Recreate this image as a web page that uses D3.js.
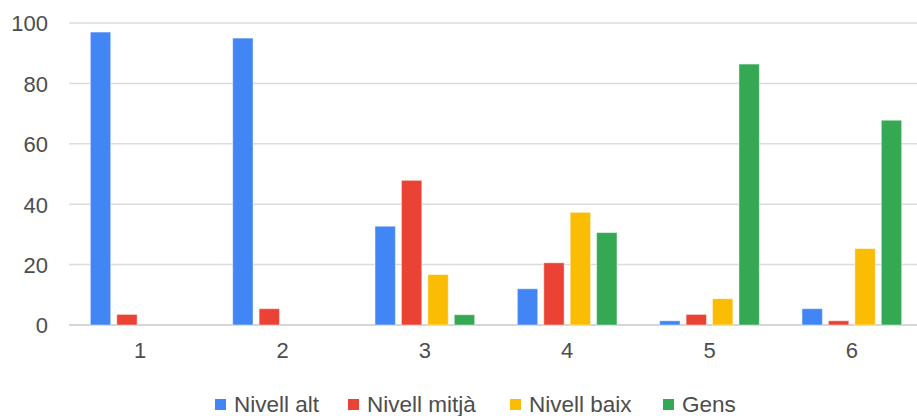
<!DOCTYPE html>
<html>
<head>
<meta charset="utf-8">
<script src="https://cdn.jsdelivr.net/npm/d3@7/dist/d3.min.js"></script>
<style>
  html, body { margin: 0; padding: 0; background: #fff; }
  svg { display: block; }
  text { font-family: "Liberation Sans", Arial, sans-serif; fill: #4d4d4d; }
</style>
</head>
<body>
<svg id="chart" width="917" height="416"></svg>
<script>
const categories = ["1", "2", "3", "4", "5", "6"];
const seriesNames = ["Nivell alt", "Nivell mitjà", "Nivell baix", "Gens"];
const seriesColors = ["#4285f4", "#ea4335", "#fbbc04", "#34a853"];
const nivellAlt   = [97, 95, 32.7, 12.0, 1.4, 5.4];
const nivellMitja = [3.5, 5.4, 47.9, 20.6, 3.5, 1.4];
const nivellBaix  = [0, 0, 16.7, 37.3, 8.7, 25.3];
const gens        = [0, 0, 3.4, 30.6, 86.4, 67.8];
const yTicks = [0, 20, 40, 60, 80, 100];

const seriesValues = [nivellAlt, nivellMitja, nivellBaix, gens];

const svg = d3.select("#chart");
const W = 917;

const x0 = d3.scaleBand().domain(categories).range([69, 923]).paddingInner(0.3).paddingOuter(0.15);
const x1 = d3.scaleBand().domain(seriesNames).range([0, x0.bandwidth()]).paddingInner(0.23);
const y = d3.scaleLinear().domain([0, 100]).range([325, 23]);

// gridlines
const grid = svg.append("g");
grid.selectAll("line").data(yTicks).join("line")
  .attr("x1", 69).attr("x2", W)
  .attr("y1", d => y(d)).attr("y2", d => y(d))
  .attr("stroke", d => d === 0 ? "#c8c8c8" : "#dcdcdc")
  .attr("stroke-width", 1.5);

// y axis labels
const yAxis = d3.axisLeft(y).tickValues(yTicks).tickSize(0).tickPadding(0);
const gy = svg.append("g").attr("transform", "translate(48,0)").call(yAxis);
gy.select(".domain").remove();
gy.selectAll("text").style("font-size", "22px").attr("fill", "#4d4d4d").attr("dy", "0.36em");

// x axis labels
const xAxis = d3.axisBottom(x0).tickSize(0).tickPadding(0);
const gx = svg.append("g").attr("transform", "translate(0,339)").call(xAxis);
gx.select(".domain").remove();
gx.selectAll("text").style("font-size", "22px").attr("fill", "#4d4d4d").attr("dy", "0.85em");

// bars
const groups = svg.append("g").selectAll("g").data(categories).join("g")
  .attr("transform", d => `translate(${x0(d)},0)`);
groups.selectAll("rect")
  .data((c, ci) => seriesNames.map((s, si) => ({ s, si, v: seriesValues[si][ci] })))
  .join("rect")
  .filter(d => d.v > 0)
  .attr("x", d => x1(d.s))
  .attr("width", x1.bandwidth())
  .attr("y", d => y(d.v))
  .attr("height", d => y(0) - y(d.v))
  .attr("fill", d => seriesColors[d.si])
  .attr("stroke", "rgba(255,255,255,0.45)")
  .attr("stroke-width", 1);

// legend
const legendX = [215, 348, 510, 663];
const legend = svg.append("g").selectAll("g").data(seriesNames).join("g")
  .attr("transform", (d, i) => `translate(${legendX[i]},399)`);
legend.append("rect").attr("width", 11).attr("height", 11).attr("fill", (d, i) => seriesColors[i]);
legend.append("text").attr("x", 19).attr("y", 12.5).style("font-size", "22.5px").attr("fill", "#4d4d4d").text(d => d);
</script>
</body>
</html>
